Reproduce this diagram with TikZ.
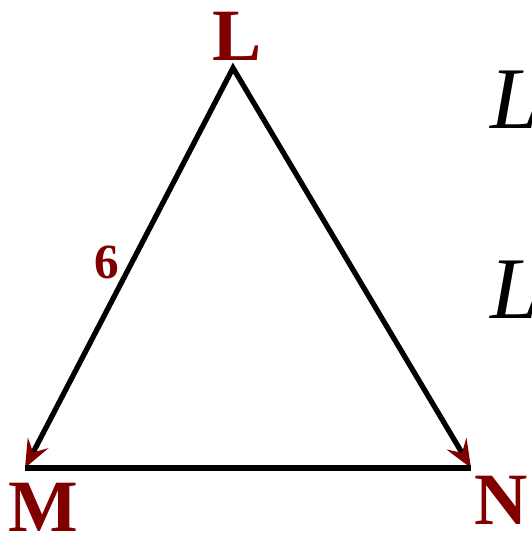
\documentclass[tikz,border=0pt]{standalone}
\usepackage{fontspec}
\setmainfont{Liberation Serif}
\usetikzlibrary{arrows.meta}
\definecolor{vertexred}{RGB}{128,0,0}
\tikzset{
  vertex/.style={font=\fontsize{42}{42}\selectfont\bfseries, text=vertexred, inner sep=0pt},
  sidelabel/.style={font=\fontsize{28}{28}\selectfont\bfseries, text=vertexred, inner sep=0pt},
  side/.style={draw=black, line width=3pt, line join=miter},
}

\begin{document}
\begin{tikzpicture}[
  x=0.02cm, y=-0.02cm,
  eqn/.style={font=\fontsize{50}{50}\selectfont\itshape, text=black, inner sep=0pt, anchor=base west},
  twotip/.style={{Stealth[length=16pt, width=13pt, inset=6pt, color=vertexred]}-{Stealth[length=16pt, width=13pt, inset=6pt, color=vertexred]}}
]
  \useasboundingbox (0,0) rectangle (531,537);
  \clip (0,0) rectangle (531,537);

  % corners of the triangle
  \coordinate (l) at (233,68);
  \coordinate (m) at (25,468);
  \coordinate (n) at (471,468);

  \draw[side, twotip] (m) -- (l) -- (n);
  \draw[side] (m) -- (n);

  \node[vertex] (lname) at (237,36) {L};
  \node[vertex] (mname) at (43,507) {M};
  \node[vertex] (nname) at (501,500) {N};
  \node[sidelabel] (lm) at (107,262) {6};

  % cut-off text on the right
  \node[eqn] (eq1) at (490,129) {L};
  \node[eqn] (eq2) at (490,318) {L};
\end{tikzpicture}
\end{document}
